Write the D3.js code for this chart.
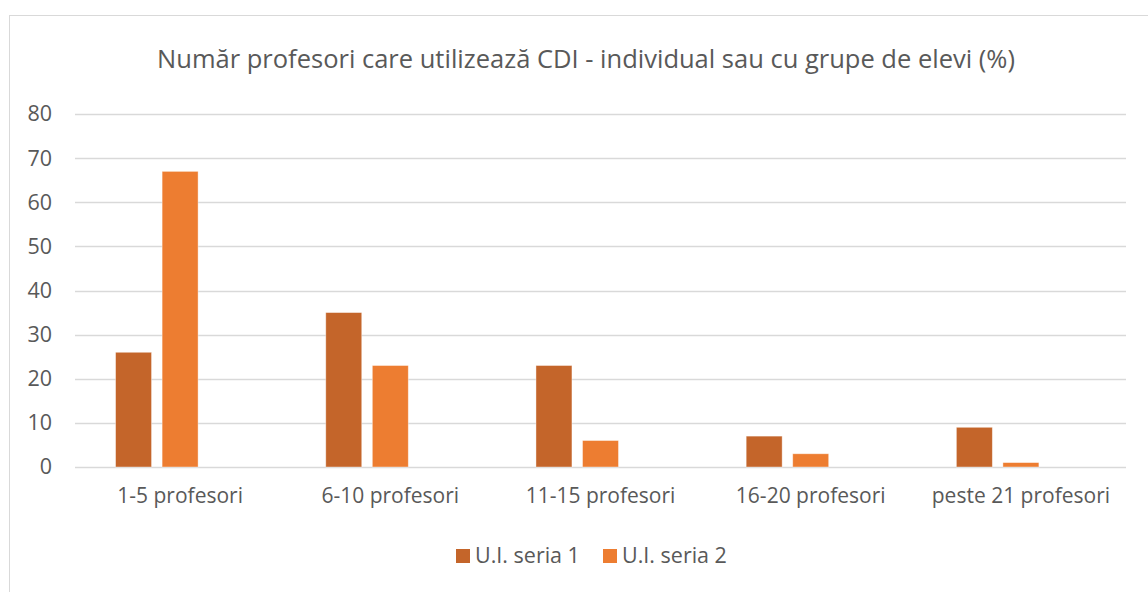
<!DOCTYPE html>
<html>
<head>
<meta charset="utf-8">
<script src="https://cdn.jsdelivr.net/npm/d3@7"></script>
<style>
  html, body { margin: 0; padding: 0; background: #fff; }
  svg { display: block; font-family: "Open Sans", "Noto Sans", sans-serif; }
</style>
</head>
<body>
<svg id="chart" width="1148" height="592"></svg>
<script>
// Categories (number of teachers) and percentage values per series
const categories = ["1-5 profesori", "6-10 profesori", "11-15 profesori", "16-20 profesori", "peste 21 profesori"];
const seriesNames = ["U.I. seria 1", "U.I. seria 2"];
const seria1 = [26, 35, 23, 7, 9];
const seria2 = [67, 23, 6, 3, 1];
const yTicks = [0, 10, 20, 30, 40, 50, 60, 70, 80];
const title = "Număr profesori care utilizează CDI - individual sau cu grupe de elevi (%)";

const colors = ["#C4652A", "#ED7D31"];
const textColor = "#595959";

const svg = d3.select("#chart");
const W = 1148, H = 592;
const plot = { left: 75, right: 1126, top: 114, bottom: 467 };

// chart frame (extends past the right and bottom edges)
svg.append("rect")
  .attr("x", 9.5).attr("y", 15.5)
  .attr("width", W + 20).attr("height", H + 20)
  .attr("fill", "#fff")
  .attr("stroke", "#D9D9D9").attr("stroke-width", 1);

// title
svg.append("text")
  .attr("x", 586).attr("y", 68)
  .attr("text-anchor", "middle")
  .attr("font-size", 25.5)
  .attr("fill", textColor)
  .text(title);

const y = d3.scaleLinear().domain([0, 80]).range([plot.bottom, plot.top]);

const x0 = d3.scaleBand()
  .domain(categories)
  .range([plot.left, plot.right])
  .paddingInner(0.386)
  .paddingOuter(0.193);

// three slots per cluster; only the first two carry data
const x1 = d3.scaleBand()
  .domain([0, 1, 2])
  .range([0, x0.bandwidth()])
  .paddingInner(0.227)
  .paddingOuter(0);

// horizontal gridlines
svg.append("g")
  .selectAll("line")
  .data(yTicks)
  .join("line")
  .attr("x1", plot.left).attr("x2", plot.right)
  .attr("y1", d => Math.round(y(d)) + 0.5)
  .attr("y2", d => Math.round(y(d)) + 0.5)
  .attr("stroke", "#D9D9D9")
  .attr("stroke-width", 1.3);

// y axis labels
const yAxis = d3.axisLeft(y).tickValues(yTicks).tickSize(0).tickPadding(0);
const gy = svg.append("g").attr("transform", `translate(52,0)`).call(yAxis);
gy.select(".domain").remove();
gy.selectAll("text")
  .attr("font-size", 21.5)
  .attr("font-family", "\"Open Sans\", sans-serif")
  .attr("fill", textColor);

// x axis labels
const xAxis = d3.axisBottom(x0).tickSize(0).tickPadding(0);
const gx = svg.append("g").attr("transform", "translate(0,488)").call(xAxis);
gx.select(".domain").remove();
gx.selectAll("text")
  .attr("font-size", 21)
  .attr("font-family", "\"Open Sans\", sans-serif")
  .attr("fill", textColor);

// bars
const data = [seria1, seria2];
data.forEach((vals, si) => {
  svg.append("g")
    .selectAll("rect")
    .data(vals.map((v, i) => ({ cat: categories[i], v })))
    .join("rect")
    .attr("x", d => x0(d.cat) + x1(si))
    .attr("width", x1.bandwidth())
    .attr("y", d => y(d.v))
    .attr("height", d => y(0) - y(d.v))
    .attr("fill", colors[si])
    .attr("stroke", "#fff")
    .attr("stroke-opacity", 0.5)
    .attr("stroke-width", 0.8);
});

// legend
const legendX = [456, 603];
const lg = svg.append("g");
seriesNames.forEach((name, i) => {
  lg.append("rect")
    .attr("x", legendX[i]).attr("y", 549)
    .attr("width", 14).attr("height", 14)
    .attr("fill", colors[i]);
  lg.append("text")
    .attr("x", legendX[i] + 19).attr("y", 563)
    .attr("font-size", 21.5)
    .attr("fill", textColor)
    .text(name);
});
</script>
</body>
</html>
